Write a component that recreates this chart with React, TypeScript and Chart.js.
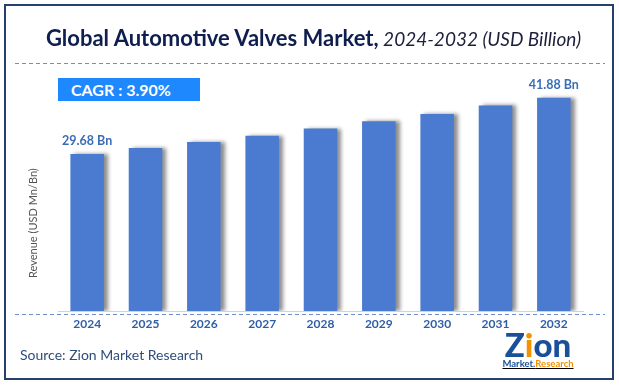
import React, { useEffect, useRef } from "react";
import { Chart, registerables } from "chart.js";

Chart.register(...registerables);

const years = ["2024", "2025", "2026", "2027", "2028", "2029", "2030", "2031", "2032"];
const revenue = [29.68, 31.0, 32.3, 33.65, 35.2, 36.8, 38.35, 40.2, 41.88];
const valueLabels = ["29.68 Bn", "", "", "", "", "", "", "", "41.88 Bn"];
const titleMain = "Global Automotive Valves Market,";
const titleSub = "2024-2032 (USD Billion)";
const cagrText = "CAGR : 3.90%";
const sourceText = "Source: Zion Market Research";
const yAxisTitle = "Revenue (USD Mn/Bn)";

const FONT = "Lato, 'Open Sans', sans-serif";
const AXIS_MIN = -4.3;
const AXIS_MAX = 45.7;

const decorPlugin = {
  id: "decor",
  beforeDraw(chart: any) {
    const ctx = chart.ctx;
    const area = chart.chartArea;
    ctx.save();
    ctx.setLineDash([4, 3]);
    ctx.strokeStyle = "#6F8FCB";
    ctx.lineWidth = 1;
    ctx.beginPath();
    ctx.moveTo(15, 63.5);
    ctx.lineTo(605, 63.5);
    ctx.stroke();
    const yb = Math.round(area.bottom) + 3.5;
    ctx.beginPath();
    ctx.moveTo(15, yb);
    ctx.lineTo(605, yb);
    ctx.stroke();
    ctx.restore();

    ctx.save();
    ctx.translate(33, area.bottom - 88);
    ctx.rotate(-Math.PI / 2);
    ctx.fillStyle = "#555555";
    ctx.font = `11px ${FONT}`;
    ctx.textAlign = "center";
    ctx.textBaseline = "middle";
    ctx.fillText(yAxisTitle, 0, 0);
    ctx.restore();
  },
  beforeDatasetsDraw(chart: any) {
    const ctx = chart.ctx;
    ctx.save();
    ctx.shadowColor = "rgba(0,0,0,0.45)";
    ctx.shadowOffsetX = 4;
    ctx.shadowOffsetY = 0;
    ctx.shadowBlur = 4;
  },
  afterDatasetsDraw(chart: any) {
    const ctx = chart.ctx;
    ctx.restore();
    const meta = chart.getDatasetMeta(0);
    ctx.save();
    ctx.fillStyle = "#3A6DB5";
    ctx.font = `bold 12.5px ${FONT}`;
    ctx.textAlign = "center";
    ctx.textBaseline = "middle";
    meta.data.forEach((bar: any, i: number) => {
      const t = valueLabels[i];
      if (t) ctx.fillText(t, bar.x, bar.y - 13);
    });
    ctx.restore();
  },
};

export default function App() {
  const ref = useRef<HTMLCanvasElement | null>(null);

  useEffect(() => {
    if (!ref.current) return;
    const chart = new Chart(ref.current, {
      type: "bar",
      data: {
        labels: years,
        datasets: [
          {
            data: revenue,
            base: AXIS_MIN,
            backgroundColor: "#4B7BD1",
            borderWidth: 0,
            categoryPercentage: 1,
            barPercentage: 0.575,
          } as any,
        ],
      },
      options: {
        responsive: false,
        animation: false,
        devicePixelRatio: 1,
        layout: { padding: { left: 58, right: 36, top: 80, bottom: 47.5 } },
        plugins: {
          legend: { display: false },
          tooltip: { enabled: false },
          title: { display: false },
        },
        scales: {
          x: {
            grid: { display: false, drawTicks: false },
            border: { display: true, color: "#D3D3D3", width: 1 },
            ticks: {
              padding: 6,
              color: "#2F5EA6",
              font: { family: FONT, size: 12, weight: "bold" },
            },
          },
          y: {
            display: false,
            min: AXIS_MIN,
            max: AXIS_MAX,
          },
        },
      },
      plugins: [decorPlugin],
    });
    return () => chart.destroy();
  }, []);

  return (
    <div
      style={{
        position: "fixed",
        left: 0,
        top: 0,
        width: 619,
        height: 385,
        background: "#ffffff",
        overflow: "hidden",
        fontFamily: FONT,
      }}
    >
      <canvas ref={ref} width={619} height={385} style={{ position: "absolute", left: 0, top: 0 }} />
      <div
        style={{
          position: "absolute",
          left: 4,
          top: 4,
          width: 610,
          height: 376,
          border: "2px solid #22426C",
          boxSizing: "border-box",
          pointerEvents: "none",
        }}
      />
      <div
        style={{
          position: "absolute",
          left: 4,
          width: 619,
          top: 24,
          textAlign: "center",
          whiteSpace: "nowrap",
          lineHeight: "28px",
          color: "#0E1E4E",
        }}
      >
        <span style={{ fontWeight: 700, fontSize: 22 }}>{titleMain}</span>
        <span style={{ fontStyle: "italic", fontSize: 19, color: "#1B1F3B" }}> {titleSub}</span>
      </div>
      <div
        style={{
          position: "absolute",
          left: 58,
          top: 78,
          width: 142,
          height: 23,
          background: "#1E88FF",
          color: "#ffffff",
          fontWeight: 700,
          fontSize: 16,
          lineHeight: "23px",
          paddingLeft: 13,
          boxSizing: "border-box",
          whiteSpace: "nowrap",
        }}
      >
        {cagrText}
      </div>
      <div
        style={{
          position: "absolute",
          left: 20,
          top: 346,
          fontSize: 14,
          lineHeight: "18px",
          color: "#2E4C7E",
          whiteSpace: "nowrap",
        }}
      >
        {sourceText}
      </div>
      <div
        style={{
          position: "absolute",
          left: 500,
          top: 329,
          width: 76,
          textAlign: "center",
          whiteSpace: "nowrap",
        }}
      >
        <div style={{ fontWeight: 900, fontSize: 33, lineHeight: "30px", letterSpacing: 0, color: "#1A4F9A" }}>
          <span>Z</span>
          <span style={{ color: "#F39200" }}>i</span>
          <span>on</span>
        </div>
        <div style={{ fontWeight: 700, fontSize: 9.5, lineHeight: "10px", textDecoration: "underline" }}>
          <span style={{ color: "#1A4F9A" }}>Market.</span>
          <span style={{ color: "#F39200" }}>Research</span>
        </div>
      </div>
    </div>
  );
}
